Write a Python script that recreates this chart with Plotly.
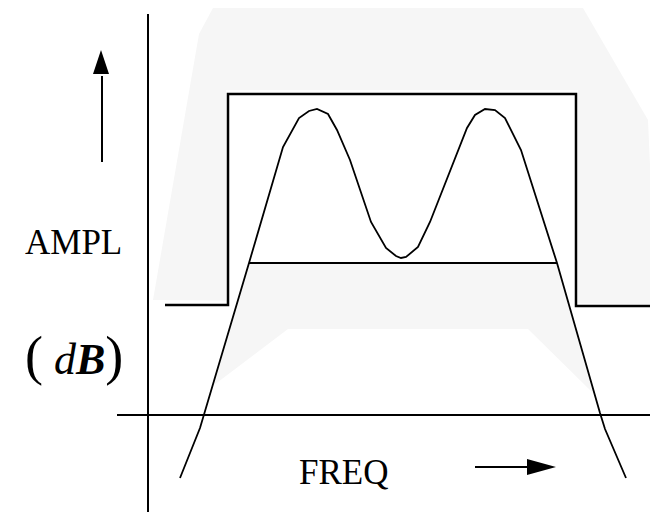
import plotly.graph_objects as go

# --- diagram data (frequency units across, amplitude units down the page) ---
# response curve (two-hump passband)
curve_f = [180, 200, 249, 283, 299, 309, 317, 328, 337, 350, 371, 386, 396, 401,
           406, 418, 430, 453, 467, 475, 485, 495, 505, 521, 557, 600, 605, 626]
curve_a = [478, 428, 263, 147, 118, 111, 109, 114, 130, 160, 222, 248, 256, 258,
           257, 247, 222, 163, 128, 115, 109, 110, 118, 150, 263, 413, 429, 478]

# mask / step limit
step_f = [165, 228, 228, 576, 576, 658]
step_a = [305, 305, 94, 94, 306, 306]

# lower passband limit line
low_f = [249, 557]
low_a = [263, 263]

# shaded outer region
shade_f = [213, 583, 648, 656, 153, 199]
shade_a = [8, 8, 120, 304, 300, 34]
# clear window inside the mask
clear_f = [226, 578, 578, 226]
clear_a = [90, 90, 305, 305]
# shaded inner region under lower limit
inner_f = [249, 557, 593, 528, 288, 214]
inner_a = [263, 263, 393, 329, 329, 385]

# axes
vaxis_f = [148, 148]
vaxis_a = [14, 520]
haxis_f = [117, 656]
haxis_a = [415, 415]

# arrows
up_shaft_f = [102, 102]
up_shaft_a = [76, 162]
up_head_f = [93, 109, 101]
up_head_a = [74, 74, 50]
rt_shaft_f = [475, 528]
rt_shaft_a = [467, 467]
rt_head_f = [527, 527, 556]
rt_head_a = [459, 475, 467]

GRAY = "#f6f6f6"
BLACK = "#000000"
FONT = "Liberation Serif, Times New Roman, serif"

fig = go.Figure()

def poly(xs, ys, color):
    fig.add_trace(go.Scatter(x=xs + [xs[0]], y=ys + [ys[0]], fill="toself",
                             fillcolor=color, line=dict(width=0, color=color),
                             mode="lines", hoverinfo="skip", showlegend=False))

def line(xs, ys, w=2):
    fig.add_trace(go.Scatter(x=xs, y=ys, mode="lines",
                             line=dict(color=BLACK, width=w),
                             hoverinfo="skip", showlegend=False))

poly(shade_f, shade_a, GRAY)
poly(clear_f, clear_a, "#ffffff")
poly(inner_f, inner_a, GRAY)

line(vaxis_f, vaxis_a, 2)
line(haxis_f, haxis_a, 2)
line(step_f, step_a, 2.5)
line(low_f, low_a, 2)
line(curve_f, curve_a, 1.8)

line(up_shaft_f, up_shaft_a, 2)
poly(up_head_f, up_head_a, BLACK)
line(rt_shaft_f, rt_shaft_a, 2)
poly(rt_head_f, rt_head_a, BLACK)

fig.add_annotation(x=73.5, y=242, text="AMPL", showarrow=False,
                   font=dict(family=FONT, size=35, color=BLACK),
                   xanchor="center", yanchor="middle")
fig.add_annotation(x=74, y=356,
                   text='<span style="font-size:54px">(</span> <i>d</i><b><i>B</i></b>'
                        '<span style="font-size:54px">)</span>',
                   showarrow=False,
                   font=dict(family=FONT, size=44, color=BLACK),
                   xanchor="center", yanchor="middle")
fig.add_annotation(x=343, y=472, text="FREQ", showarrow=False,
                   font=dict(family=FONT, size=35, color=BLACK),
                   xanchor="center", yanchor="middle")

# page body has an 8px margin; offset the ranges so the drawing lands in place
fig.update_xaxes(range=[8, 666], visible=False, fixedrange=True)
fig.update_yaxes(range=[520, 8], visible=False, fixedrange=True)
fig.update_layout(width=658, height=512, margin=dict(l=0, r=0, t=0, b=0),
                  plot_bgcolor="white", paper_bgcolor="white")

fig.write_html("out.html", config={"displayModeBar": False})
